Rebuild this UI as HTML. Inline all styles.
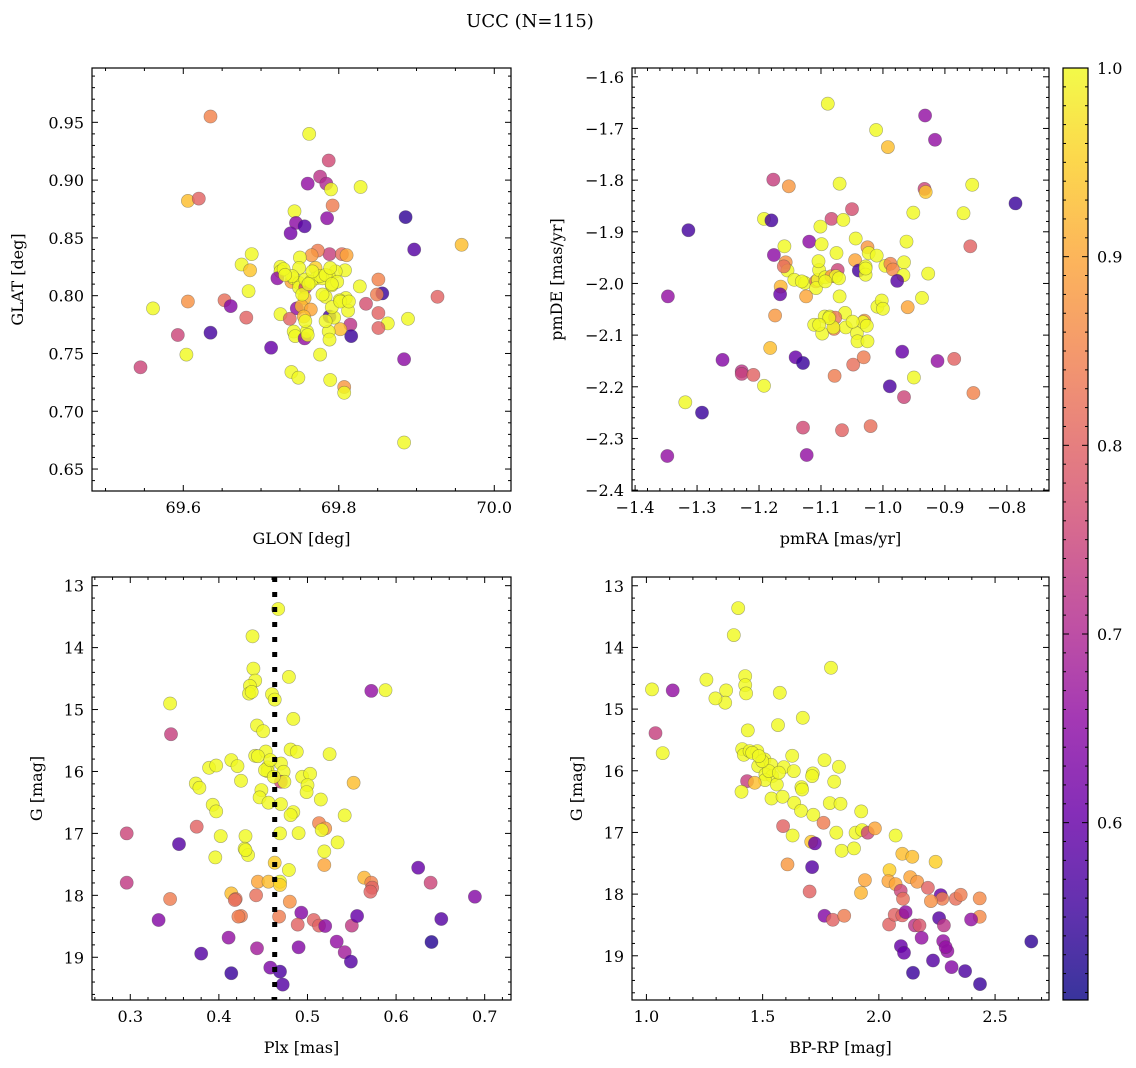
<!DOCTYPE html>
<html><head><meta charset="utf-8"><style>
html,body{margin:0;padding:0;background:#fff;}
svg{display:block;font-family:"DejaVu Serif","Liberation Serif",serif;}
</style></head><body>
<svg id="fig" width="1136" height="1068" viewBox="0 0 1136 1068" xmlns="http://www.w3.org/2000/svg">
<text x="530" y="27" font-size="18" text-anchor="middle">UCC (N=115)</text>
</svg>
<script>
// ---- Panel 1: GLON / GLAT ----
const p1Glon=[69.635,69.762,69.787,69.760,69.776,69.784,69.790,69.828,69.606,69.620,69.792,69.743,69.785,69.745,69.756,69.738,69.886,69.897,69.958,69.688,69.675,69.686,69.684,69.561,69.606,69.653,69.661,69.681,69.593,69.635,69.604,69.545,69.713,69.739,69.748,69.776,69.789,69.807,69.807,69.884,69.884,69.889,69.863,69.851,69.851,69.851,69.856,69.849,69.835,69.927,69.815,69.816,69.812,69.802,69.809,69.801,69.783,69.788,69.794,69.791,69.827,69.808,69.796,69.787,69.791,69.788,69.804,69.810,69.773,69.765,69.770,69.771,69.779,69.750,69.749,69.725,69.725,69.721,69.739,69.742,69.749,69.749,69.757,69.756,69.746,69.752,69.764,69.755,69.725,69.737,69.742,69.744,69.756,69.759,69.760,69.787,69.788,69.757,69.764,69.776,69.783,69.798,69.740,69.729,69.766,69.791,69.753,69.779,69.802,69.789,69.761,69.731,69.783,69.757,69.813];
const p1Glat=[0.955,0.940,0.917,0.897,0.903,0.897,0.892,0.894,0.882,0.884,0.878,0.873,0.867,0.863,0.860,0.854,0.868,0.840,0.844,0.836,0.827,0.822,0.804,0.789,0.795,0.796,0.791,0.781,0.766,0.768,0.749,0.738,0.755,0.734,0.729,0.749,0.727,0.721,0.716,0.673,0.745,0.780,0.776,0.772,0.785,0.814,0.802,0.801,0.793,0.799,0.775,0.765,0.787,0.771,0.798,0.796,0.799,0.782,0.781,0.790,0.808,0.822,0.821,0.817,0.809,0.836,0.836,0.835,0.839,0.835,0.824,0.815,0.815,0.833,0.824,0.825,0.821,0.815,0.812,0.815,0.811,0.807,0.807,0.798,0.789,0.791,0.788,0.782,0.784,0.780,0.769,0.765,0.763,0.769,0.766,0.769,0.762,0.814,0.812,0.817,0.818,0.812,0.817,0.823,0.821,0.810,0.801,0.801,0.795,0.824,0.810,0.818,0.778,0.778,0.795];
const p1Prob=[0.85,1,0.76,0.66,0.72,0.7,1,1,0.93,0.8,0.84,1,0.65,0.65,0.58,0.62,0.54,0.58,0.93,1,1,0.94,1,1,0.87,0.82,0.64,0.8,0.75,0.56,1,0.75,0.6,1,1,1,1,0.88,1,1,0.65,1,1,0.8,0.8,0.85,0.55,0.84,0.77,0.8,0.72,0.55,1,0.93,1,1,1,0.56,1,1,1,1,1,1,1,0.74,0.82,0.9,0.84,0.88,0.95,1,1,1,1,1,1,0.65,0.9,1,1,1,0.75,0.93,0.66,0.92,0.9,0.93,1,0.8,1,1,0.66,1,1,1,1,1,1,1,1,1,1,1,1,1,1,1,1,1,1,1,1,1,1];
// ---- Panel 2: pmRA / pmDE ----
const p2PmRA=[-1.089,-0.932,-0.916,-1.011,-0.992,-1.177,-1.152,-1.070,-0.933,-0.931,-0.856,-0.786,-1.314,-1.192,-1.180,-1.083,-1.050,-1.064,-0.951,-0.870,-1.101,-1.119,-1.099,-1.176,-1.159,-1.075,-1.044,-1.025,-1.023,-1.010,-0.962,-0.859,-1.157,-1.154,-1.160,-1.143,-1.126,-1.165,-1.166,-1.347,-1.108,-1.105,-1.103,-1.104,-1.108,-1.093,-1.083,-1.073,-1.076,-1.124,-1.045,-1.039,-1.028,-1.028,-0.996,-0.988,-0.984,-0.966,-0.967,-0.977,-0.927,-1.070,-0.937,-1.174,-1.009,-1.002,-1.000,-0.960,-1.061,-1.094,-1.086,-1.077,-1.111,-1.098,-1.079,-1.080,-1.060,-1.042,-1.041,-1.025,-1.030,-1.032,-1.026,-1.182,-1.259,-1.141,-1.129,-1.228,-1.228,-1.209,-1.192,-1.078,-1.048,-1.031,-0.969,-0.950,-0.912,-0.885,-0.989,-0.966,-0.854,-1.319,-1.292,-1.129,-1.066,-1.020,-1.348,-1.123,-1.087,-1.103,-1.093,-1.028,-1.071,-1.131,-1.049];
const p2PmDE=[-1.652,-1.675,-1.722,-1.703,-1.736,-1.799,-1.812,-1.807,-1.817,-1.823,-1.809,-1.845,-1.897,-1.875,-1.878,-1.875,-1.856,-1.877,-1.863,-1.864,-1.890,-1.919,-1.924,-1.945,-1.928,-1.941,-1.913,-1.930,-1.941,-1.946,-1.919,-1.928,-1.959,-1.975,-1.967,-1.993,-1.999,-2.006,-2.021,-2.025,-1.996,-1.993,-1.974,-1.957,-2.009,-1.988,-1.986,-1.974,-1.986,-2.025,-1.955,-1.975,-1.967,-1.983,-1.966,-1.962,-1.973,-1.959,-1.984,-1.995,-1.981,-2.025,-2.028,-2.062,-2.045,-2.033,-2.049,-2.046,-2.057,-2.064,-2.064,-2.066,-2.080,-2.097,-2.088,-2.085,-2.085,-2.096,-2.112,-2.112,-2.072,-2.075,-2.082,-2.125,-2.148,-2.143,-2.154,-2.170,-2.175,-2.177,-2.198,-2.179,-2.157,-2.143,-2.132,-2.182,-2.150,-2.146,-2.199,-2.220,-2.212,-2.230,-2.250,-2.279,-2.284,-2.276,-2.334,-2.332,-2.067,-2.080,-1.996,-1.971,-1.990,-1.996,-2.074];
const p2Prob=[1,0.66,0.66,1,0.93,0.74,0.88,1,0.75,0.94,1,0.55,0.56,1,0.56,0.76,0.77,1,1,1,1,0.65,1,0.65,1,1,1,0.88,1,1,1,0.8,0.87,1,0.82,1,1,0.92,0.6,0.66,0.82,1,1,1,1,1,0.88,0.75,1,0.9,0.9,0.56,1,1,1,0.85,0.86,1,1,0.58,1,1,1,0.88,1,1,1,0.9,1,1,1,0.83,1,1,0.85,1,1,1,1,1,0.88,1,1,0.93,0.64,0.6,0.55,0.72,0.74,0.8,1,0.84,0.82,0.84,0.6,1,0.66,0.8,0.57,0.75,0.85,1,0.55,0.76,0.8,0.82,0.66,0.66,1,1,1,1,1,1,1];
// ---- Panel 3: Plx / G ----
const p3Plx=[0.467,0.438,0.439,0.441,0.435,0.434,0.437,0.460,0.463,0.479,0.572,0.588,0.345,0.346,0.484,0.443,0.450,0.441,0.453,0.481,0.488,0.525,0.414,0.421,0.389,0.397,0.455,0.455,0.470,0.473,0.470,0.474,0.494,0.503,0.500,0.499,0.552,0.425,0.374,0.378,0.448,0.446,0.456,0.470,0.515,0.393,0.397,0.484,0.542,0.296,0.375,0.355,0.402,0.430,0.429,0.433,0.396,0.469,0.490,0.513,0.520,0.516,0.534,0.519,0.519,0.463,0.479,0.564,0.572,0.573,0.571,0.625,0.639,0.689,0.296,0.444,0.456,0.469,0.469,0.345,0.414,0.419,0.418,0.442,0.480,0.425,0.422,0.468,0.493,0.489,0.507,0.513,0.520,0.550,0.556,0.332,0.651,0.640,0.411,0.443,0.490,0.533,0.542,0.549,0.380,0.414,0.458,0.469,0.472,0.444,0.452,0.462,0.458,0.481,0.430];
const p3G=[13.376,13.817,14.339,14.532,14.618,14.742,14.715,14.753,14.839,14.473,14.699,14.688,14.903,15.398,15.151,15.258,15.349,15.747,15.677,15.645,15.683,15.720,15.817,15.914,15.941,15.903,15.935,15.995,15.871,16.005,16.167,16.167,16.086,16.038,16.220,16.333,16.183,16.151,16.194,16.263,16.301,16.419,16.505,16.527,16.452,16.538,16.645,16.656,16.710,17.000,16.892,17.172,17.043,17.043,17.247,17.349,17.387,17.000,16.995,16.833,16.919,16.946,17.145,17.290,17.511,17.473,17.591,17.715,17.796,17.876,17.941,17.554,17.796,18.022,17.796,17.780,17.780,17.780,17.833,18.059,17.968,18.059,18.075,18.000,18.102,18.333,18.344,18.344,18.280,18.473,18.398,18.489,18.495,18.489,18.333,18.398,18.382,18.753,18.683,18.855,18.839,18.747,18.919,19.070,18.941,19.258,19.167,19.231,19.441,15.753,15.978,16.086,15.817,16.704,17.269];
const p3Prob=[1,1,1,1,1,1,1,1,1,1,0.66,1,1,0.74,1,1,1,1,1,1,1,1,1,1,1,1,1,1,1,1,0.76,1,1,1,1,1,0.93,1,1,1,1,1,1,1,1,1,1,1,1,0.75,0.8,0.58,1,1,1,1,1,1,1,0.85,0.88,1,1,1,0.9,0.95,1,0.92,0.85,0.8,0.8,0.6,0.75,0.64,0.73,0.9,0.93,1,0.95,0.84,0.93,0.83,0.82,0.82,0.87,0.84,0.84,0.84,0.64,0.8,0.8,0.8,0.65,0.73,0.6,0.64,0.58,0.53,0.66,0.68,0.64,0.66,0.68,0.58,0.58,0.55,0.63,0.57,0.58,1,1,1,1,1,1];
const plxLine=0.463;
// ---- Panel 4: BP-RP / G ----
const p4BpRp=[1.395,1.376,1.794,1.425,1.425,1.429,1.343,1.339,1.297,1.258,1.024,1.113,1.574,1.566,1.673,1.039,1.070,1.436,1.412,1.419,1.444,1.477,1.508,1.481,1.537,1.512,1.541,1.510,1.561,1.433,1.466,1.409,1.591,1.627,1.634,1.716,1.766,1.828,1.808,1.667,1.670,1.538,1.586,1.636,1.665,1.718,1.789,1.835,1.924,1.762,1.588,1.629,1.709,1.725,1.817,1.900,1.928,1.952,1.983,1.840,1.893,2.072,2.101,2.144,2.244,1.607,1.713,2.046,1.940,1.923,2.041,2.072,2.135,2.165,2.211,1.702,2.094,2.104,2.266,2.273,2.224,2.331,2.352,2.434,2.434,2.397,1.766,1.802,1.851,2.044,2.068,2.101,2.115,2.155,2.175,2.184,2.259,2.280,2.277,2.295,2.287,2.095,2.108,2.233,2.313,2.371,2.147,2.435,2.656,1.527,1.498,1.455,1.570,1.484,1.713];
const p4G=[13.362,13.800,14.330,14.465,14.611,14.746,14.697,14.897,14.827,14.524,14.681,14.697,14.735,15.259,15.141,15.389,15.714,15.346,15.649,15.741,15.681,15.681,15.816,15.924,15.903,16.059,16.086,16.151,16.222,16.168,16.195,16.341,15.941,15.757,16.005,16.043,15.827,15.935,16.178,16.265,16.303,16.449,16.422,16.519,16.649,16.714,16.524,16.535,16.659,16.843,16.897,17.049,17.151,17.178,17.005,17.005,16.962,17.005,16.935,17.297,17.259,17.049,17.346,17.395,17.476,17.519,17.562,17.611,17.773,17.978,17.789,17.838,17.724,17.800,17.897,17.957,17.946,18.076,18.016,18.076,18.114,18.076,18.011,18.070,18.368,18.411,18.351,18.416,18.351,18.492,18.335,18.346,18.292,18.508,18.508,18.708,18.389,18.508,18.762,18.924,18.859,18.843,18.951,19.076,19.184,19.249,19.276,19.459,18.768,16.005,15.843,15.708,16.032,15.762,16.086];
const p4Prob=[1,1,1,1,1,1,1,1,1,1,1,0.66,1,1,1,0.74,1,1,1,1,1,1,1,1,1,1,1,1,1,0.74,0.93,1,1,1,1,1,1,1,1,1,1,1,1,1,1,1,1,1,1,0.84,0.8,1,0.94,0.6,1,1,1,0.75,0.9,1,1,1,0.93,0.93,0.95,0.88,0.58,0.95,0.9,0.92,0.9,0.9,0.9,0.88,0.8,0.8,0.75,0.82,0.6,0.84,0.87,0.82,0.84,0.86,0.86,0.66,0.64,0.8,0.84,0.8,0.8,0.8,0.65,0.72,0.78,0.66,0.58,0.72,0.66,0.66,0.66,0.6,0.6,0.58,0.64,0.57,0.55,0.55,0.54,1,1,1,1,1,1];
// colorbar
const cbTicks=[0.6,0.7,0.8,0.9,1.0];

const NS='http://www.w3.org/2000/svg';
const svg=document.getElementById('fig');
function mk(tag,attrs,parent){const e=document.createElementNS(NS,tag);for(const k in attrs)e.setAttribute(k,attrs[k]);(parent||svg).appendChild(e);return e;}
const stops=[[13,8,135],[65,4,157],[106,0,168],[143,13,164],[177,42,144],[204,71,120],[225,100,98],[242,132,75],[252,166,54],[252,206,37],[240,249,33]];
const cmin=0.506,cmax=1.0;
function plasma(v){let t=(v-cmin)/(cmax-cmin);t=Math.max(0,Math.min(1,t));const f=t*10,i=Math.min(9,Math.floor(f)),r=f-i;const a=stops[i],b=stops[i+1];return 'rgb('+a.map((c,j)=>Math.round(c+(b[j]-c)*r)).join(',')+')';}
function fmt(v,d){const s=v.toFixed(d);return v<0?'\u2212'+s.slice(1):s;}

function panel(cfg){
  const g=mk('g',{});
  
  
  const {x0,x1,y0,y1,xmin,xmax,ymin,ymax}=cfg;
  const X=v=>x0+(v-xmin)/(xmax-xmin)*(x1-x0);
  const Y=v=>y1-(v-ymin)/(ymax-ymin)*(y1-y0);
  const Yf=cfg.invert?(v=>y0+(v-ymin)/(ymax-ymin)*(y1-y0)):Y;
  for(let i=0;i<cfg.xs.length;i++){
    const c=mk('circle',{cx:X(cfg.xs[i]).toFixed(1),cy:Yf(cfg.ys[i]).toFixed(1),r:6.6,fill:plasma(cfg.cs[i]),'fill-opacity':0.82,stroke:'#444','stroke-opacity':0.45,'stroke-width':0.6},g);
    
    
  }
  if(cfg.vline!==undefined){
    const l=mk('line',{x1:X(cfg.vline),x2:X(cfg.vline),y1:y0,y2:y1,stroke:'#000','stroke-width':5,'stroke-dasharray':'5,10'},g);
    
    
  }
  const fr=mk('rect',{x:x0,y:y0,width:x1-x0,height:y1-y0,fill:'none',stroke:'#000','stroke-width':1.2},g);
  
  
  const eps=1e-9;
  const nMinX=Math.round((cfg.xmaj)/(cfg.xmin_));
  for(let k=Math.ceil(xmin/cfg.xmin_-eps);k*cfg.xmin_<=xmax+eps;k++){
    const v=k*cfg.xmin_,px=X(v);const major=Math.abs(k%nMinX)===0;const L=major?6:3;
    mk('line',{x1:px,x2:px,y1:y1,y2:y1-L,stroke:'#000','stroke-width':1},g);
    mk('line',{x1:px,x2:px,y1:y0,y2:y0+L,stroke:'#000','stroke-width':1},g);
    if(major){const t=mk('text',{x:px,y:y1+22,'font-size':16,'text-anchor':'middle'},g);t.textContent=fmt(v,cfg.xd);
      }
  }
  const nMinY=Math.round(cfg.ymaj/cfg.ymin_);
  for(let k=Math.ceil(ymin/cfg.ymin_-eps);k*cfg.ymin_<=ymax+eps;k++){
    const v=k*cfg.ymin_,py=Yf(v);const major=Math.abs(k%nMinY)===0;const L=major?6:3;
    mk('line',{x1:x0,x2:x0+L,y1:py,y2:py,stroke:'#000','stroke-width':1},g);
    mk('line',{x1:x1,x2:x1-L,y1:py,y2:py,stroke:'#000','stroke-width':1},g);
    if(major){const t=mk('text',{x:x0-8,y:py+6,'font-size':16,'text-anchor':'end'},g);t.textContent=fmt(v,cfg.yd);
      }
  }
  const xl=mk('text',{x:(x0+x1)/2,y:y1+53,'font-size':16,'text-anchor':'middle'},g);xl.textContent=cfg.xlabel;
  
  const yl=mk('text',{x:0,y:0,'font-size':16,'text-anchor':'middle',transform:`translate(${cfg.ylx},${(y0+y1)/2}) rotate(-90)`},g);yl.textContent=cfg.ylabel;
  
}
panel({name:'glon-glat-panel',x0:92,x1:511,y0:68,y1:491,xmin:69.4826,xmax:70.0215,ymin:0.631,ymax:0.997,xs:p1Glon,ys:p1Glat,cs:p1Prob,xmaj:0.2,xmin_:0.05,ymaj:0.05,ymin_:0.01,xd:1,yd:2,xlabel:'GLON [deg]',ylabel:'GLAT [deg]',ylx:23});
panel({name:'pm-panel',x0:632,x1:1049,y0:68,y1:491,xmin:-1.405,xmax:-0.732,ymin:-2.4017,ymax:-1.583,xs:p2PmRA,ys:p2PmDE,cs:p2Prob,xmaj:0.1,xmin_:0.02,ymaj:0.1,ymin_:0.02,xd:1,yd:1,xlabel:'pmRA [mas/yr]',ylabel:'pmDE [mas/yr]',ylx:562});
panel({name:'plx-g-panel',x0:92,x1:511,y0:577,y1:1000,xmin:0.2568,xmax:0.7297,ymin:12.86,ymax:19.69,invert:true,xs:p3Plx,ys:p3G,cs:p3Prob,vline:plxLine,xmaj:0.1,xmin_:0.02,ymaj:1,ymin_:0.2,xd:1,yd:0,xlabel:'Plx [mas]',ylabel:'G [mag]',ylx:42});
panel({name:'cmd-panel',x0:632,x1:1049,y0:577,y1:1000,xmin:0.938,xmax:2.732,ymin:12.858,ymax:19.717,invert:true,xs:p4BpRp,ys:p4G,cs:p4Prob,xmaj:0.5,xmin_:0.1,ymaj:1,ymin_:0.2,xd:1,yd:0,xlabel:'BP-RP [mag]',ylabel:'G [mag]',ylx:582});

const cb=mk('g',{});


const defs=mk('defs',{},cb);
const grad=mk('linearGradient',{id:'cbg',x1:0,y1:1,x2:0,y2:0},defs);
for(let i=0;i<=20;i++){const v=cmin+(cmax-cmin)*i/20;mk('stop',{offset:(i/20),'stop-color':plasma(v),'stop-opacity':0.82},grad);}
const cbx0=1063,cbx1=1088,cby0=68,cby1=1000;
mk('rect',{x:cbx0,y:cby0,width:cbx1-cbx0,height:cby1-cby0,fill:'url(#cbg)',stroke:'#000','stroke-width':1.2},cb);
const CY=v=>cby1-(v-cmin)/(cmax-cmin)*(cby1-cby0);
for(let k=51;k<=100;k++){const v=k/100;const major=k%10===0;const L=major?6:3;const py=CY(v);
  mk('line',{x1:cbx1,x2:cbx1-L,y1:py,y2:py,stroke:'#000','stroke-width':1},cb);
  mk('line',{x1:cbx0,x2:cbx0+L,y1:py,y2:py,stroke:'#000','stroke-width':1},cb);}
cbTicks.forEach(v=>{const t=mk('text',{x:cbx1+9,y:CY(v)+6,'font-size':16},cb);t.textContent=v.toFixed(1);
  });
</script>
</body></html>
